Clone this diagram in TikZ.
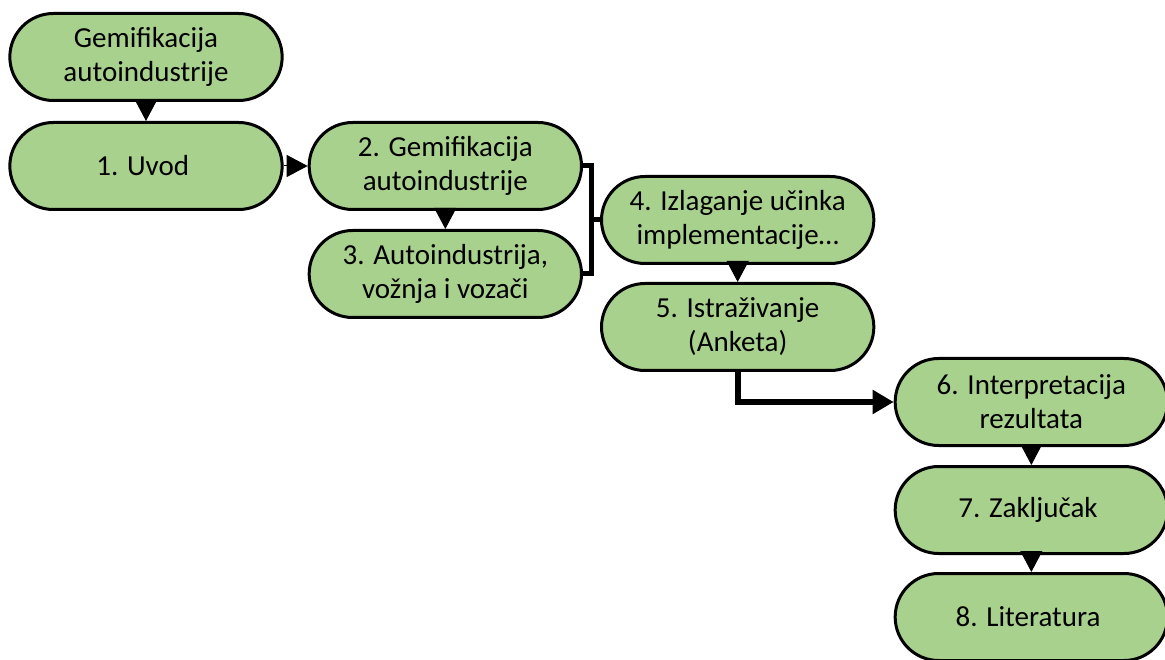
\documentclass[tikz,border=0pt]{standalone}
\usepackage{fontspec}
\setmainfont{Carlito}
\usetikzlibrary{arrows.meta,shapes.misc,positioning,calc}
\definecolor{chapGreen}{RGB}{169,209,142}
\tikzstyle{chapNode} = [shape = rounded rectangle, draw, line width=3pt, fill = chapGreen, minimum width = 279pt, minimum height = 87pt, align = center, font=\fontsize{29}{34}\selectfont]
\tikzstyle{tipArrow} = [line width=1pt, -{Triangle[length=21pt, width=22pt]}]
\tikzstyle{bracketLine} = [line width=5pt]
\tikzstyle{thickArrow} = [line width=6pt, -{Triangle[length=21pt, width=23pt]}]

\begin{document}
\begin{tikzpicture}
			\useasboundingbox (0,0) rectangle (1165pt,-660pt);
			\node (Top) at (146pt,-57pt) [chapNode] {
				Gemifikacija\\autoindustrije
			};
			\node (Uvod) [chapNode, below = 19pt of Top] {
				1. Uvod
			};
			\node (Gemif) [chapNode, right = 24pt of Uvod] {
				2. Gemifikacija\\autoindustrije
			};
			\node (Auto) [chapNode, below = 18pt of Gemif] {
				3. Autoindustrija,\\vožnja i vozači
			};
			\coordinate (brk) at ($($(Gemif.east)!0.5!(Auto.east)$)+(8pt,0)$);
			\node (Ucinak) [chapNode, right = 9pt of brk] {
				4. Izlaganje učinka\\implementacije…
			};
			\node (Istraz) [chapNode, below = 17pt of Ucinak] {
				5. Istraživanje\\(Anketa)
			};
			\coordinate [below = 30pt of Istraz] (bend);
			\node (Interp) [chapNode, right = 156pt of bend] {
				6. Interpretacija\\rezultata
			};
			\node (Zaklj) [chapNode, below = 18pt of Interp] {
				7. Zaključak
			};
			\node (Lit) [chapNode, below = 17pt of Zaklj] {
				8. Literatura
			};
			\draw[tipArrow] (Top.south) -- (Uvod.north);
			\draw[tipArrow] (Uvod.east) -- (Gemif.west);
			\draw[tipArrow] (Gemif.south) -- (Auto.north);
			\draw[bracketLine] (Gemif.east) -| (brk) |- (Auto.east);
			\draw[bracketLine] (brk) -- (Ucinak.west);
			\draw[tipArrow] (Ucinak.south) -- (Istraz.north);
			\draw[thickArrow] (Istraz.south) -- (bend) -- (Interp.west);
			\draw[tipArrow] (Interp.south) -- (Zaklj.north);
			\draw[tipArrow] (Zaklj.south) -- (Lit.north);
			\end{tikzpicture}
\end{document}
